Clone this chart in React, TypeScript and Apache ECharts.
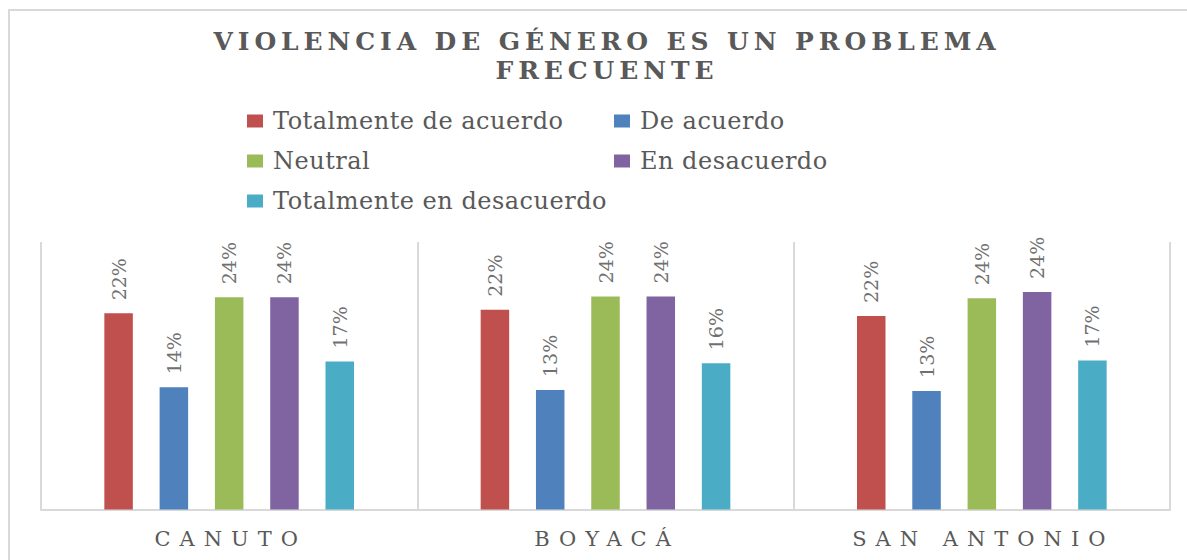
import { useEffect, useRef } from 'react';
import * as echarts from 'echarts';

const categories = ['CANUTO', 'BOYACÁ', 'SAN ANTONIO'];
const seriesNames = [
  'Totalmente de acuerdo',
  'De acuerdo',
  'Neutral',
  'En desacuerdo',
  'Totalmente en desacuerdo',
];
const totalmenteDeAcuerdo = [22.0, 22.4, 21.7];
const deAcuerdo = [13.7, 13.4, 13.3];
const neutral = [23.8, 23.9, 23.7];
const enDesacuerdo = [23.8, 23.9, 24.4];
const totalmenteEnDesacuerdo = [16.6, 16.4, 16.7];
const seriesColors = ['#C0504D', '#4F81BD', '#9BBB59', '#8064A2', '#4BACC6'];
const titleLines = ['VIOLENCIA DE GÉNERO ES UN PROBLEMA', 'FRECUENTE'];
const legendLeftColumn = ['Totalmente de acuerdo', 'Neutral', 'Totalmente en desacuerdo'];
const legendRightColumn = ['De acuerdo', 'En desacuerdo'];

const FONT = 'DejaVu Serif';

export default function App() {
  const ref = useRef<HTMLDivElement>(null);

  useEffect(() => {
    if (!ref.current) return;
    const chart = echarts.init(ref.current, undefined, { renderer: 'svg' });
    const values = [totalmenteDeAcuerdo, deAcuerdo, neutral, enDesacuerdo, totalmenteEnDesacuerdo];

    const legendCommon = {
      orient: 'vertical' as const,
      top: 108,
      padding: 0,
      itemWidth: 16,
      itemHeight: 13,
      itemGap: 14,
      icon: 'rect',
      selectedMode: false,
      textStyle: {
        fontFamily: FONT,
        fontSize: 24,
        lineHeight: 26,
        color: '#595959',
        padding: [0, 0, 0, 5],
      },
    };

    chart.setOption({
      animation: false,
      backgroundColor: '#ffffff',
      color: seriesColors,
      textStyle: { fontFamily: FONT },
      grid: { left: 41, right: 17, top: 242, bottom: 50.5 },
      legend: [
        { ...legendCommon, left: 247, data: legendLeftColumn },
        { ...legendCommon, left: 614, data: legendRightColumn },
      ],
      graphic: [
        {
          type: 'rect',
          silent: true,
          z: -10,
          shape: { x: 9, y: 10, width: 1300, height: 700 },
          style: { fill: 'none', stroke: '#d9d9d9', lineWidth: 2 },
        },
        {
          type: 'text',
          x: 607,
          y: 56,
          style: {
            text: titleLines.join('\n'),
            font: `bold 25px ${FONT}`,
            fill: '#595959',
            align: 'center',
            verticalAlign: 'middle',
            lineHeight: 29,
          },
        },
      ],
      xAxis: {
        type: 'category',
        data: categories,
        axisTick: { show: false },
        axisLine: { lineStyle: { color: '#d9d9d9', width: 2 } },
        splitLine: { show: true, lineStyle: { color: '#d9d9d9', width: 2 } },
        axisLabel: {
          fontFamily: FONT,
          fontSize: 21,
          color: '#595959',
          margin: 18.5,
          padding: [0, 0, 0, 3],
        },
      },
      yAxis: {
        type: 'value',
        min: 0,
        max: 30,
        show: false,
        splitLine: { show: false },
      },
      series: seriesNames.map((name, i) => ({
        name,
        type: 'bar',
        data: values[i],
        barWidth: 28.5,
        barGap: '94%',
        itemStyle: { color: seriesColors[i] },
        label: {
          show: true,
          position: 'top',
          rotate: 90,
          align: 'left',
          verticalAlign: 'middle',
          distance: 13,
          fontFamily: FONT,
          fontSize: 19,
          color: '#707070',
          formatter: (p: any) => `${Math.round(p.value)}%`,
        },
      })),
    });

    return () => chart.dispose();
  }, []);

  return (
    <>
      <style>{`
        #chart text[style*="25px"] { letter-spacing: 4.9px; }
        #chart text[style*="24px"] { letter-spacing: 0.5px; }
        #chart text[style*="21px"] { letter-spacing: 9px; }
      `}</style>
      <div
        id="chart"
        ref={ref}
        style={{ position: 'fixed', left: 0, top: 0, width: 1187, height: 560 }}
      />
    </>
  );
}
